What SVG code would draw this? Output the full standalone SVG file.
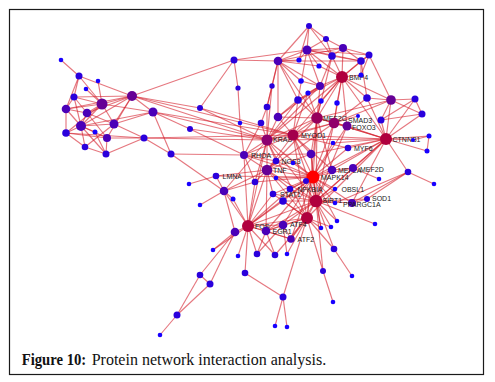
<svg xmlns="http://www.w3.org/2000/svg" width="495" height="382" viewBox="0 0 495 382">
<style>
.e{stroke:#d41c2a;stroke-opacity:.6;stroke-width:1.15;fill:none}
.s{fill:#1800ff}.b{fill:#2a00dc}.p{fill:#4a00b8}.q{fill:#660096}.c{fill:#8c0070}.h{fill:#b0003e}.m{fill:#ff0000}
.t{font-family:"Liberation Sans",Arial,sans-serif;font-size:7px;fill:#1a1a1a}
.cap{font-family:"Liberation Serif","Times New Roman",serif;font-size:16px;fill:#111}
</style>
<rect x="9.5" y="9.5" width="474" height="365" fill="#fff" stroke="#1a1a1a" stroke-width="1.2"/>
<g id="edges" class="e">
<line x1="61" y1="60" x2="79" y2="76"/><line x1="79" y1="76" x2="74" y2="97"/><line x1="79" y1="76" x2="102" y2="104"/><line x1="79" y1="76" x2="132" y2="96"/><line x1="79" y1="76" x2="66" y2="109"/>
<line x1="98" y1="81" x2="102" y2="104"/><line x1="86" y1="89" x2="102" y2="104"/><line x1="74" y1="97" x2="102" y2="104"/><line x1="74" y1="97" x2="132" y2="96"/><line x1="74" y1="97" x2="66" y2="109"/>
<line x1="74" y1="97" x2="87" y2="113"/><line x1="74" y1="97" x2="81" y2="126"/><line x1="102" y1="104" x2="132" y2="96"/><line x1="102" y1="104" x2="66" y2="109"/><line x1="102" y1="104" x2="87" y2="113"/>
<line x1="102" y1="104" x2="114" y2="124"/><line x1="102" y1="104" x2="81" y2="126"/><line x1="102" y1="104" x2="153" y2="112"/><line x1="102" y1="104" x2="66" y2="133"/><line x1="132" y1="96" x2="153" y2="112"/>
<line x1="132" y1="96" x2="66" y2="109"/><line x1="132" y1="96" x2="87" y2="113"/><line x1="132" y1="96" x2="114" y2="124"/><line x1="132" y1="96" x2="81" y2="126"/><line x1="132" y1="96" x2="107" y2="138"/>
<line x1="66" y1="109" x2="87" y2="113"/><line x1="66" y1="109" x2="81" y2="126"/><line x1="66" y1="109" x2="66" y2="133"/><line x1="87" y1="113" x2="114" y2="124"/><line x1="87" y1="113" x2="81" y2="126"/>
<line x1="87" y1="113" x2="107" y2="138"/><line x1="114" y1="124" x2="81" y2="126"/><line x1="114" y1="124" x2="153" y2="112"/><line x1="114" y1="124" x2="144" y2="138"/><line x1="114" y1="124" x2="85" y2="147"/>
<line x1="81" y1="126" x2="66" y2="133"/><line x1="81" y1="126" x2="95" y2="132"/><line x1="81" y1="126" x2="85" y2="147"/><line x1="81" y1="126" x2="153" y2="112"/><line x1="81" y1="126" x2="107" y2="138"/>
<line x1="66" y1="133" x2="85" y2="147"/><line x1="66" y1="133" x2="107" y2="138"/><line x1="66" y1="133" x2="144" y2="138"/><line x1="107" y1="138" x2="106" y2="154"/><line x1="107" y1="138" x2="144" y2="138"/>
<line x1="85" y1="147" x2="106" y2="154"/><line x1="95" y1="132" x2="106" y2="154"/><line x1="153" y1="112" x2="171" y2="154"/><line x1="106" y1="154" x2="144" y2="138"/><line x1="81" y1="126" x2="106" y2="154"/>
<line x1="132" y1="96" x2="234" y2="60"/><line x1="132" y1="96" x2="200" y2="108"/><line x1="132" y1="96" x2="267" y2="140"/><line x1="132" y1="96" x2="293" y2="135"/><line x1="153" y1="112" x2="267" y2="140"/>
<line x1="153" y1="112" x2="293" y2="135"/><line x1="153" y1="112" x2="190" y2="129"/><line x1="144" y1="138" x2="267" y2="140"/><line x1="144" y1="138" x2="293" y2="135"/><line x1="171" y1="154" x2="244" y2="155"/>
<line x1="171" y1="154" x2="224" y2="191"/><line x1="144" y1="138" x2="171" y2="154"/>
<line x1="200" y1="108" x2="234" y2="60"/><line x1="200" y1="108" x2="267" y2="140"/><line x1="200" y1="108" x2="293" y2="135"/><line x1="190" y1="129" x2="267" y2="140"/><line x1="190" y1="129" x2="244" y2="155"/>
<line x1="234" y1="60" x2="278" y2="61"/><line x1="234" y1="60" x2="307" y2="50"/><line x1="234" y1="60" x2="238" y2="88"/><line x1="238" y1="88" x2="240" y2="123"/><line x1="240" y1="123" x2="244" y2="155"/>
<line x1="261" y1="123" x2="267" y2="140"/><line x1="261" y1="123" x2="267" y2="107"/><line x1="261" y1="123" x2="244" y2="155"/><line x1="267" y1="107" x2="267" y2="140"/><line x1="267" y1="107" x2="272" y2="86"/>
<line x1="267" y1="107" x2="278" y2="61"/><line x1="272" y1="86" x2="278" y2="61"/><line x1="272" y1="86" x2="267" y2="140"/>
<line x1="309" y1="26" x2="307" y2="50"/><line x1="309" y1="26" x2="326" y2="39"/><line x1="309" y1="26" x2="278" y2="61"/><line x1="309" y1="26" x2="299" y2="60"/><line x1="309" y1="26" x2="332" y2="56"/>
<line x1="326" y1="39" x2="343" y2="48"/><line x1="326" y1="39" x2="332" y2="56"/><line x1="326" y1="39" x2="307" y2="50"/><line x1="307" y1="50" x2="343" y2="48"/><line x1="307" y1="50" x2="332" y2="56"/>
<line x1="307" y1="50" x2="299" y2="60"/><line x1="307" y1="50" x2="278" y2="61"/><line x1="307" y1="50" x2="320" y2="86"/><line x1="307" y1="50" x2="342" y2="77"/><line x1="307" y1="50" x2="361" y2="61"/>
<line x1="307" y1="50" x2="369" y2="55"/><line x1="307" y1="50" x2="298" y2="100"/><line x1="343" y1="48" x2="361" y2="61"/><line x1="343" y1="48" x2="369" y2="55"/><line x1="343" y1="48" x2="332" y2="56"/>
<line x1="343" y1="48" x2="342" y2="77"/><line x1="332" y1="56" x2="342" y2="77"/><line x1="332" y1="56" x2="320" y2="86"/><line x1="332" y1="56" x2="361" y2="61"/><line x1="332" y1="56" x2="317" y2="118"/>
<line x1="361" y1="61" x2="369" y2="55"/><line x1="361" y1="61" x2="342" y2="77"/><line x1="361" y1="61" x2="361" y2="75"/><line x1="369" y1="55" x2="361" y2="75"/><line x1="369" y1="55" x2="391" y2="100"/>
<line x1="369" y1="55" x2="342" y2="77"/><line x1="361" y1="61" x2="367" y2="98"/><line x1="299" y1="60" x2="278" y2="61"/><line x1="319" y1="66" x2="307" y2="50"/><line x1="319" y1="66" x2="342" y2="77"/>
<line x1="278" y1="61" x2="301" y2="81"/><line x1="278" y1="61" x2="320" y2="86"/><line x1="278" y1="61" x2="298" y2="100"/><line x1="278" y1="61" x2="278" y2="117"/><line x1="278" y1="61" x2="317" y2="118"/>
<line x1="278" y1="61" x2="319" y2="66"/><line x1="278" y1="61" x2="343" y2="48"/><line x1="278" y1="61" x2="361" y2="61"/><line x1="361" y1="75" x2="342" y2="77"/><line x1="301" y1="81" x2="320" y2="86"/>
<line x1="320" y1="86" x2="342" y2="77"/><line x1="320" y1="86" x2="308" y2="93"/><line x1="320" y1="86" x2="298" y2="100"/><line x1="320" y1="86" x2="317" y2="118"/><line x1="320" y1="86" x2="278" y2="117"/>
<line x1="320" y1="86" x2="267" y2="140"/><line x1="342" y1="77" x2="317" y2="118"/><line x1="342" y1="77" x2="334" y2="123"/><line x1="342" y1="77" x2="367" y2="98"/><line x1="342" y1="77" x2="337" y2="103"/>
<line x1="342" y1="77" x2="321" y2="101"/><line x1="342" y1="77" x2="391" y2="100"/><line x1="342" y1="77" x2="386" y2="139"/><line x1="342" y1="77" x2="347" y2="126"/><line x1="342" y1="77" x2="293" y2="135"/>
<line x1="342" y1="77" x2="298" y2="100"/><line x1="342" y1="77" x2="267" y2="140"/><line x1="298" y1="100" x2="317" y2="118"/><line x1="298" y1="100" x2="267" y2="140"/><line x1="298" y1="100" x2="293" y2="135"/>
<line x1="298" y1="100" x2="278" y2="117"/><line x1="321" y1="101" x2="317" y2="118"/><line x1="337" y1="103" x2="334" y2="123"/><line x1="367" y1="98" x2="391" y2="100"/><line x1="367" y1="98" x2="386" y2="139"/>
<line x1="367" y1="98" x2="334" y2="123"/><line x1="391" y1="100" x2="415" y2="99"/><line x1="391" y1="100" x2="422" y2="114"/><line x1="391" y1="100" x2="381" y2="120"/><line x1="391" y1="100" x2="386" y2="139"/>
<line x1="391" y1="100" x2="317" y2="118"/><line x1="391" y1="100" x2="334" y2="123"/><line x1="415" y1="99" x2="422" y2="114"/><line x1="415" y1="99" x2="386" y2="139"/><line x1="422" y1="114" x2="386" y2="139"/>
<line x1="381" y1="120" x2="386" y2="139"/><line x1="381" y1="120" x2="415" y2="99"/><line x1="381" y1="120" x2="422" y2="114"/><line x1="358" y1="116" x2="334" y2="123"/><line x1="278" y1="117" x2="267" y2="140"/>
<line x1="278" y1="117" x2="293" y2="135"/><line x1="278" y1="117" x2="317" y2="118"/><line x1="308" y1="93" x2="317" y2="118"/><line x1="308" y1="93" x2="293" y2="135"/>
<line x1="317" y1="118" x2="334" y2="123"/><line x1="317" y1="118" x2="293" y2="135"/><line x1="317" y1="118" x2="267" y2="140"/><line x1="317" y1="118" x2="313" y2="177"/><line x1="317" y1="118" x2="316" y2="201"/>
<line x1="317" y1="118" x2="347" y2="126"/><line x1="317" y1="118" x2="386" y2="139"/><line x1="317" y1="118" x2="311" y2="154"/><line x1="317" y1="118" x2="267" y2="170"/><line x1="317" y1="118" x2="332" y2="170"/>
<line x1="317" y1="118" x2="307" y2="218"/><line x1="334" y1="123" x2="347" y2="126"/><line x1="334" y1="123" x2="386" y2="139"/><line x1="334" y1="123" x2="313" y2="177"/><line x1="334" y1="123" x2="293" y2="135"/>
<line x1="334" y1="123" x2="267" y2="140"/><line x1="334" y1="123" x2="316" y2="201"/><line x1="334" y1="123" x2="267" y2="170"/><line x1="347" y1="126" x2="316" y2="201"/><line x1="347" y1="126" x2="386" y2="139"/>
<line x1="347" y1="126" x2="313" y2="177"/><line x1="293" y1="135" x2="267" y2="140"/><line x1="293" y1="135" x2="313" y2="177"/><line x1="293" y1="135" x2="348" y2="148"/><line x1="293" y1="135" x2="311" y2="154"/>
<line x1="293" y1="135" x2="316" y2="201"/><line x1="293" y1="135" x2="267" y2="170"/><line x1="293" y1="135" x2="386" y2="139"/><line x1="293" y1="135" x2="332" y2="170"/><line x1="293" y1="135" x2="244" y2="155"/>
<line x1="293" y1="135" x2="307" y2="218"/><line x1="267" y1="140" x2="244" y2="155"/><line x1="267" y1="140" x2="267" y2="170"/><line x1="267" y1="140" x2="313" y2="177"/><line x1="267" y1="140" x2="276" y2="161"/>
<line x1="267" y1="140" x2="316" y2="201"/><line x1="267" y1="140" x2="248" y2="226"/><line x1="267" y1="140" x2="255" y2="182"/><line x1="267" y1="140" x2="386" y2="139"/><line x1="267" y1="140" x2="224" y2="191"/>
<line x1="267" y1="140" x2="307" y2="218"/><line x1="386" y1="139" x2="313" y2="177"/><line x1="386" y1="139" x2="316" y2="201"/><line x1="386" y1="139" x2="353" y2="168"/><line x1="386" y1="139" x2="332" y2="170"/>
<line x1="386" y1="139" x2="429" y2="136"/><line x1="386" y1="139" x2="427" y2="151"/><line x1="386" y1="139" x2="413" y2="140"/><line x1="386" y1="139" x2="408" y2="172"/><line x1="386" y1="139" x2="333" y2="143"/>
<line x1="386" y1="139" x2="348" y2="148"/><line x1="386" y1="139" x2="352" y2="203"/><line x1="386" y1="139" x2="311" y2="154"/><line x1="386" y1="139" x2="307" y2="218"/><line x1="429" y1="136" x2="427" y2="151"/>
<line x1="429" y1="136" x2="413" y2="140"/><line x1="408" y1="172" x2="434" y2="184"/><line x1="408" y1="172" x2="352" y2="203"/><line x1="408" y1="172" x2="367" y2="199"/><line x1="408" y1="172" x2="335" y2="203"/>
<line x1="379" y1="179" x2="353" y2="168"/><line x1="244" y1="155" x2="267" y2="170"/><line x1="244" y1="155" x2="313" y2="177"/><line x1="244" y1="155" x2="255" y2="182"/><line x1="244" y1="155" x2="276" y2="161"/>
<line x1="244" y1="155" x2="248" y2="226"/><line x1="244" y1="155" x2="311" y2="154"/><line x1="311" y1="154" x2="313" y2="177"/><line x1="311" y1="154" x2="316" y2="201"/><line x1="311" y1="154" x2="267" y2="170"/>
<line x1="267" y1="170" x2="313" y2="177"/><line x1="267" y1="170" x2="216" y2="176"/><line x1="267" y1="170" x2="248" y2="226"/><line x1="267" y1="170" x2="316" y2="201"/><line x1="267" y1="170" x2="255" y2="182"/>
<line x1="267" y1="170" x2="290" y2="189"/><line x1="267" y1="170" x2="273" y2="194"/><line x1="267" y1="170" x2="307" y2="218"/><line x1="267" y1="170" x2="266" y2="231"/><line x1="267" y1="170" x2="224" y2="191"/>
<line x1="267" y1="170" x2="276" y2="161"/><line x1="313" y1="177" x2="332" y2="170"/><line x1="313" y1="177" x2="353" y2="168"/><line x1="313" y1="177" x2="316" y2="201"/><line x1="313" y1="177" x2="290" y2="189"/>
<line x1="313" y1="177" x2="306" y2="181"/><line x1="313" y1="177" x2="307" y2="218"/><line x1="313" y1="177" x2="291" y2="239"/><line x1="313" y1="177" x2="283" y2="225"/><line x1="313" y1="177" x2="248" y2="226"/>
<line x1="313" y1="177" x2="273" y2="194"/><line x1="313" y1="177" x2="283" y2="201"/><line x1="313" y1="177" x2="335" y2="189"/><line x1="313" y1="177" x2="352" y2="203"/><line x1="313" y1="177" x2="276" y2="161"/>
<line x1="313" y1="177" x2="293" y2="163"/><line x1="313" y1="177" x2="333" y2="143"/><line x1="313" y1="177" x2="348" y2="148"/><line x1="313" y1="177" x2="266" y2="231"/><line x1="313" y1="177" x2="276" y2="178"/>
<line x1="313" y1="177" x2="255" y2="182"/><line x1="313" y1="177" x2="216" y2="176"/><line x1="313" y1="177" x2="335" y2="203"/><line x1="313" y1="177" x2="337" y2="221"/><line x1="313" y1="177" x2="321" y2="228"/>
<line x1="332" y1="170" x2="353" y2="168"/><line x1="332" y1="170" x2="316" y2="201"/><line x1="353" y1="168" x2="316" y2="201"/><line x1="216" y1="176" x2="224" y2="191"/><line x1="216" y1="176" x2="189" y2="184"/>
<line x1="224" y1="191" x2="200" y2="205"/><line x1="224" y1="191" x2="248" y2="226"/><line x1="224" y1="191" x2="233" y2="199"/><line x1="224" y1="191" x2="235" y2="232"/><line x1="224" y1="191" x2="255" y2="182"/>
<line x1="316" y1="201" x2="307" y2="218"/><line x1="316" y1="201" x2="248" y2="226"/><line x1="316" y1="201" x2="290" y2="189"/><line x1="316" y1="201" x2="352" y2="203"/><line x1="316" y1="201" x2="367" y2="199"/>
<line x1="316" y1="201" x2="335" y2="203"/><line x1="316" y1="201" x2="337" y2="221"/><line x1="316" y1="201" x2="321" y2="228"/><line x1="316" y1="201" x2="331" y2="227"/><line x1="316" y1="201" x2="375" y2="224"/>
<line x1="316" y1="201" x2="334" y2="249"/><line x1="316" y1="201" x2="283" y2="201"/><line x1="316" y1="201" x2="273" y2="194"/><line x1="316" y1="201" x2="283" y2="225"/><line x1="316" y1="201" x2="291" y2="239"/>
<line x1="316" y1="201" x2="323" y2="271"/><line x1="316" y1="201" x2="335" y2="189"/><line x1="316" y1="201" x2="266" y2="231"/><line x1="352" y1="203" x2="367" y2="199"/><line x1="290" y1="189" x2="306" y2="181"/>
<line x1="307" y1="218" x2="248" y2="226"/><line x1="307" y1="218" x2="283" y2="225"/><line x1="307" y1="218" x2="291" y2="239"/><line x1="307" y1="218" x2="266" y2="231"/><line x1="307" y1="218" x2="283" y2="201"/>
<line x1="307" y1="218" x2="323" y2="271"/><line x1="307" y1="218" x2="334" y2="249"/><line x1="307" y1="218" x2="283" y2="297"/><line x1="307" y1="218" x2="321" y2="228"/><line x1="307" y1="218" x2="287" y2="254"/>
<line x1="307" y1="218" x2="275" y2="255"/><line x1="307" y1="218" x2="331" y2="227"/><line x1="307" y1="218" x2="273" y2="194"/>
<line x1="248" y1="226" x2="283" y2="225"/><line x1="248" y1="226" x2="266" y2="231"/><line x1="248" y1="226" x2="235" y2="232"/><line x1="248" y1="226" x2="257" y2="254"/><line x1="248" y1="226" x2="275" y2="255"/>
<line x1="248" y1="226" x2="238" y2="256"/><line x1="248" y1="226" x2="245" y2="273"/><line x1="248" y1="226" x2="213" y2="250"/><line x1="248" y1="226" x2="283" y2="201"/><line x1="248" y1="226" x2="273" y2="194"/>
<line x1="248" y1="226" x2="290" y2="189"/><line x1="248" y1="226" x2="233" y2="199"/><line x1="248" y1="226" x2="291" y2="239"/><line x1="248" y1="226" x2="255" y2="182"/>
<line x1="266" y1="231" x2="283" y2="225"/><line x1="266" y1="231" x2="257" y2="254"/><line x1="266" y1="231" x2="275" y2="255"/><line x1="266" y1="231" x2="291" y2="239"/><line x1="283" y1="225" x2="291" y2="239"/>
<line x1="283" y1="225" x2="287" y2="254"/><line x1="283" y1="225" x2="257" y2="254"/><line x1="235" y1="232" x2="200" y2="275"/><line x1="235" y1="232" x2="210" y2="284"/><line x1="235" y1="232" x2="213" y2="250"/>
<line x1="200" y1="275" x2="210" y2="284"/><line x1="200" y1="275" x2="177" y2="315"/><line x1="210" y1="284" x2="177" y2="315"/><line x1="177" y1="315" x2="160" y2="335"/><line x1="245" y1="273" x2="283" y2="297"/>
<line x1="283" y1="297" x2="275" y2="326"/><line x1="283" y1="297" x2="287" y2="327"/><line x1="323" y1="271" x2="333" y2="302"/><line x1="334" y1="249" x2="352" y2="276"/>
</g>
<g id="n-L1"><circle class="s" cx="61" cy="60" r="2.3"/></g>
<g id="n-L2"><circle class="b" cx="79" cy="76" r="3.5"/></g>
<g id="n-L3"><circle class="s" cx="98" cy="81" r="2.3"/></g>
<g id="n-L4"><circle class="s" cx="86" cy="89" r="2.3"/></g>
<g id="n-L5"><circle class="b" cx="74" cy="97" r="3.5"/></g>
<g id="n-L6"><circle class="q" cx="102" cy="104" r="5.5"/></g>
<g id="n-L7"><circle class="q" cx="132" cy="96" r="5"/></g>
<g id="n-L8"><circle class="p" cx="153" cy="112" r="4.5"/></g>
<g id="n-L9"><circle class="p" cx="66" cy="109" r="4.3"/></g>
<g id="n-L10"><circle class="p" cx="87" cy="113" r="4.3"/></g>
<g id="n-L11"><circle class="p" cx="114" cy="124" r="4.5"/></g>
<g id="n-L12"><circle class="p" cx="81" cy="126" r="5"/></g>
<g id="n-L13"><circle class="b" cx="66" cy="133" r="3.8"/></g>
<g id="n-L14"><circle class="s" cx="95" cy="132" r="2.5"/></g>
<g id="n-L15"><circle class="p" cx="107" cy="138" r="4"/></g>
<g id="n-L16"><circle class="b" cx="144" cy="138" r="3.5"/></g>
<g id="n-L17"><circle class="b" cx="85" cy="147" r="3.3"/></g>
<g id="n-L18"><circle class="b" cx="106" cy="154" r="3.5"/></g>
<g id="n-L19"><circle class="b" cx="171" cy="154" r="3.5"/></g>
<g id="n-M1"><circle class="b" cx="200" cy="108" r="3"/></g>
<g id="n-M2"><circle class="b" cx="190" cy="129" r="3"/></g>
<g id="n-M3"><circle class="b" cx="234" cy="60" r="3.5"/></g>
<g id="n-M4"><circle class="b" cx="238" cy="88" r="2.6"/></g>
<g id="n-M5"><circle class="s" cx="240" cy="123" r="2.3"/></g>
<g id="n-M6"><circle class="b" cx="261" cy="123" r="3.3"/></g>
<g id="n-M7"><circle class="b" cx="267" cy="107" r="3.3"/></g>
<g id="n-T1"><circle class="b" cx="309" cy="26" r="3"/></g>
<g id="n-T2"><circle class="b" cx="326" cy="39" r="3"/></g>
<g id="n-T3"><circle class="p" cx="307" cy="50" r="4.5"/></g>
<g id="n-T4"><circle class="p" cx="343" cy="48" r="4"/></g>
<g id="n-T5"><circle class="b" cx="332" cy="56" r="3.8"/></g>
<g id="n-T6"><circle class="b" cx="361" cy="61" r="3.8"/></g>
<g id="n-T7"><circle class="b" cx="369" cy="55" r="3.5"/></g>
<g id="n-T8"><circle class="s" cx="299" cy="60" r="2.6"/></g>
<g id="n-T9"><circle class="s" cx="319" cy="66" r="2.6"/></g>
<g id="n-T10"><circle class="p" cx="278" cy="61" r="4.3"/></g>
<g id="n-BMP4"><circle class="h" cx="342" cy="77" r="6"/><text class="t" x="349" y="80">BMP4</text></g>
<g id="n-T11"><circle class="s" cx="361" cy="75" r="2.5"/></g>
<g id="n-T12"><circle class="s" cx="301" cy="81" r="2.8"/></g>
<g id="n-T13"><circle class="p" cx="320" cy="86" r="4"/></g>
<g id="n-T14"><circle class="b" cx="272" cy="86" r="2.7"/></g>
<g id="n-T15"><circle class="s" cx="308" cy="93" r="2.6"/></g>
<g id="n-T16"><circle class="b" cx="298" cy="100" r="3.8"/></g>
<g id="n-T17"><circle class="s" cx="321" cy="101" r="2.7"/></g>
<g id="n-T18"><circle class="s" cx="337" cy="103" r="2.7"/></g>
<g id="n-T19"><circle class="b" cx="367" cy="98" r="3.8"/></g>
<g id="n-T20"><circle class="q" cx="391" cy="100" r="4.8"/></g>
<g id="n-T21"><circle class="b" cx="415" cy="99" r="3.5"/></g>
<g id="n-T22"><circle class="b" cx="422" cy="114" r="3.5"/></g>
<g id="n-T23"><circle class="b" cx="381" cy="120" r="3.5"/></g>
<g id="n-T24"><circle class="s" cx="358" cy="116" r="2"/></g>
<g id="n-T25"><circle class="p" cx="278" cy="117" r="4.3"/></g>
<g id="n-MEF2C"><circle fill="#96005c" cx="317" cy="118" r="5.8"/><text class="t" x="323" y="120.5">MEF2C</text></g>
<g id="n-SMAD3"><text class="t" x="348" y="123">SMAD3</text><circle fill="#90006a" cx="334" cy="123" r="5.3"/></g>
<g id="n-FOXO3"><circle class="q" cx="347" cy="126" r="4.5"/><text class="t" x="352" y="129.5">FOXO3</text></g>
<g id="n-KRAS"><circle class="c" cx="267" cy="140" r="5.5"/><text class="t" x="273" y="142">KRAS</text></g>
<g id="n-MYOD1"><circle fill="#a4004c" cx="293" cy="135" r="5.5"/><text class="t" x="301" y="137.5">MYOD1</text></g>
<g id="n-CTNNB1"><circle class="h" cx="386" cy="139" r="6"/><text class="t" x="392.5" y="141.5">CTNNB1</text></g>
<g id="n-N1"><circle class="s" cx="333" cy="143" r="2.3"/></g>
<g id="n-MYF6"><circle class="b" cx="348" cy="148" r="3.3"/><text class="t" x="354" y="151">MYF6</text></g>
<g id="n-R1"><circle class="s" cx="429" cy="136" r="2.5"/></g>
<g id="n-R2"><circle class="s" cx="427" cy="151" r="2.5"/></g>
<g id="n-R3"><circle class="s" cx="413" cy="140" r="2"/></g>
<g id="n-RHOA"><circle class="p" cx="244" cy="155" r="4"/><text class="t" x="251" y="157.5">RHOA</text></g>
<g id="n-N2"><circle class="p" cx="311" cy="154" r="4.3"/></g>
<g id="n-NOS3"><circle class="b" cx="276" cy="161" r="3.3"/><text class="t" x="281.5" y="163.5">NOS3</text></g>
<g id="n-N3"><circle class="s" cx="293" cy="163" r="2.3"/></g>
<g id="n-TNF"><circle class="q" cx="267" cy="170" r="5.3"/><text class="t" x="273" y="172.5">TNF</text></g>
<g id="n-MEF2A"><circle class="p" cx="332" cy="170" r="4.3"/><text class="t" x="338" y="172.5">MEF2A</text></g>
<g id="n-MEF2D"><circle class="p" cx="353" cy="168" r="4"/><text class="t" x="360" y="171.5">MEF2D</text></g>
<g id="n-MAPK14"><circle class="m" cx="313" cy="177" r="6.5"/><text class="t" x="321" y="180">MAPK14</text></g>
<g id="n-R4"><circle class="b" cx="408" cy="172" r="3.3"/></g>
<g id="n-R5"><circle class="s" cx="434" cy="184" r="2.3"/></g>
<g id="n-R6"><circle class="s" cx="379" cy="179" r="2.3"/></g>
<g id="n-LMNA"><circle class="b" cx="216" cy="176" r="3.3"/><text class="t" x="222.5" y="179">LMNA</text></g>
<g id="n-N4"><circle class="b" cx="255" cy="182" r="3.3"/></g>
<g id="n-N5"><circle class="s" cx="276" cy="178" r="2.3"/></g>
<g id="n-N6"><circle class="b" cx="306" cy="181" r="3"/></g>
<g id="n-N7"><circle class="s" cx="189" cy="184" r="2.3"/></g>
<g id="n-N8"><circle class="p" cx="224" cy="191" r="4.3"/></g>
<g id="n-NFKBIA"><circle class="b" cx="290" cy="189" r="3.3"/><text class="t" x="297.5" y="191.5">NFKBIA</text></g>
<g id="n-OBSL1"><circle class="s" cx="335" cy="189" r="2.3"/><text class="t" x="341.5" y="191.5">OBSL1</text></g>
<g id="n-STAT1"><circle class="b" cx="273" cy="194" r="3.3"/><text class="t" x="280" y="197">STAT1</text></g>
<g id="n-N9"><circle class="b" cx="283" cy="201" r="3.8"/></g>
<g id="n-SIRT1"><circle class="h" cx="316" cy="201" r="6.3"/><text class="t" x="322.5" y="202.5">SIRT1</text></g>
<g id="n-N10"><circle class="s" cx="335" cy="203" r="2.3"/></g>
<g id="n-PPARGC1A"><circle class="p" cx="352" cy="203" r="4"/><text class="t" x="343" y="207">PPARGC1A</text></g>
<g id="n-SOD1"><circle class="b" cx="367" cy="199" r="3"/><text class="t" x="372" y="200.5">SOD1</text></g>
<g id="n-N11"><circle class="s" cx="233" cy="199" r="2.5"/></g>
<g id="n-N12"><circle class="s" cx="200" cy="205" r="2.3"/></g>
<g id="n-ATF3"><circle class="h" cx="307" cy="218" r="6"/></g>
<g id="n-N13"><circle class="s" cx="337" cy="221" r="2.3"/></g>
<g id="n-N14"><circle class="s" cx="321" cy="228" r="2.3"/></g>
<g id="n-N15"><circle class="s" cx="331" cy="227" r="2.3"/></g>
<g id="n-N16"><circle class="s" cx="375" cy="224" r="2.3"/></g>
<g id="n-FOS"><circle class="h" cx="248" cy="226" r="6"/><text class="t" x="255" y="228.5">FOS</text></g>
<g id="n-ATF4"><circle class="p" cx="283" cy="225" r="4.3"/><text class="t" x="290" y="227">ATF4</text></g>
<g id="n-EGR1"><circle class="p" cx="266" cy="231" r="4.3"/><text class="t" x="272.5" y="233.5">EGR1</text></g>
<g id="n-N17"><circle class="p" cx="235" cy="232" r="4.3"/></g>
<g id="n-ATF2"><circle class="p" cx="291" cy="239" r="3.8"/><text class="t" x="297.5" y="241.5">ATF2</text></g>
<g id="n-N18"><circle class="b" cx="334" cy="249" r="3.3"/></g>
<g id="n-N19"><circle class="s" cx="213" cy="250" r="2.3"/></g>
<g id="n-N20"><circle class="b" cx="257" cy="254" r="3.3"/></g>
<g id="n-N21"><circle class="b" cx="275" cy="255" r="3.3"/></g>
<g id="n-N22"><circle class="s" cx="287" cy="254" r="2.3"/></g>
<g id="n-N23"><circle class="s" cx="238" cy="256" r="2.3"/></g>
<g id="n-N24"><circle class="b" cx="245" cy="273" r="3.3"/></g>
<g id="n-N25"><circle class="b" cx="323" cy="271" r="3"/></g>
<g id="n-N26"><circle class="s" cx="352" cy="276" r="2.3"/></g>
<g id="n-N27"><circle class="b" cx="200" cy="275" r="3.3"/></g>
<g id="n-N28"><circle class="b" cx="210" cy="284" r="3.5"/></g>
<g id="n-N29"><circle class="b" cx="283" cy="297" r="3.5"/></g>
<g id="n-N30"><circle class="s" cx="333" cy="302" r="2.3"/></g>
<g id="n-N31"><circle class="b" cx="177" cy="315" r="3.5"/></g>
<g id="n-N32"><circle class="s" cx="275" cy="326" r="2.3"/></g>
<g id="n-N33"><circle class="s" cx="287" cy="327" r="2.3"/></g>
<g id="n-N34"><circle class="s" cx="160" cy="335" r="2.3"/></g>
<text class="cap" x="21.7" y="365" font-weight="bold" textLength="64.5" lengthAdjust="spacingAndGlyphs">Figure 10:</text>
<text class="cap" x="91.7" y="365" textLength="234.5" lengthAdjust="spacing">Protein network interaction analysis.</text>
</svg>
